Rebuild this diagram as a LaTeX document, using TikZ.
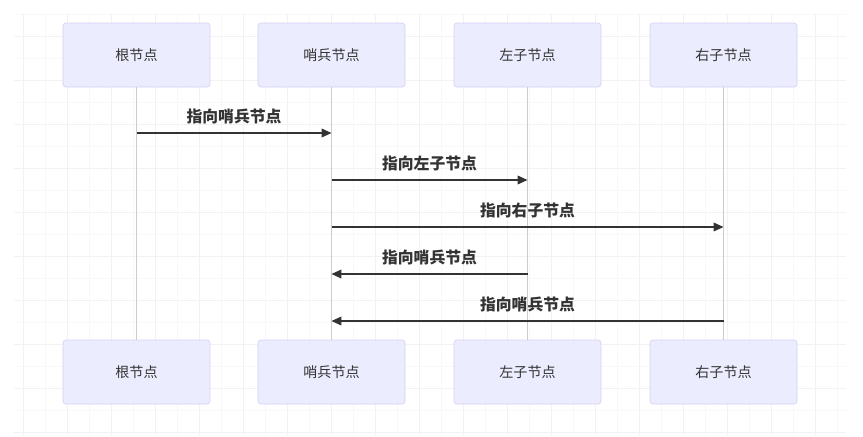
\documentclass[tikz,border=0pt]{standalone}
\usepackage{fontspec}
\newfontfamily\cjk{Noto Sans CJK SC}
\usetikzlibrary{arrows.meta,positioning}
\definecolor{actorfill}{HTML}{ECECFF}
\definecolor{actorline}{HTML}{D8D2F2}
\definecolor{ink}{HTML}{333333}
\definecolor{lifeline}{HTML}{CCCCCC}
\definecolor{gridmajor}{HTML}{F2F2F4}
\definecolor{gridminor}{HTML}{F8F8F9}

\begin{document}
\begin{tikzpicture}[x=0.03cm,y=-0.03cm,
    actor/.style={draw=actorline,fill=actorfill,line width=0.6pt,rounded corners=2.5pt,
      minimum width=4.41cm,minimum height=1.92cm,text=ink,font=\cjk\fontsize{12}{14}\selectfont},
    msg/.style={draw=ink,line width=0.9pt,-{Triangle[length=8.5pt,width=7.5pt]}},
    msglabel/.style={text=ink,inner sep=0pt,font=\cjk\bfseries\fontsize{13.5}{16}\selectfont}]
  \useasboundingbox (0,0) rectangle (863,436);
  \fill[white] (0,0) rectangle (863,436);
  % faint grid behind the diagram
  \foreach \x in {45,89,...,837} \draw[gridminor,line width=0.5pt] (\x,14) -- (\x,436);
  \foreach \y in {14,58,...,410} \draw[gridminor,line width=0.5pt] (14,\y) -- (846,\y);
  \foreach \x in {23,67,...,815} \draw[gridmajor,line width=0.6pt] (\x,14) -- (\x,436);
  \foreach \y in {36,80,...,432} \draw[gridmajor,line width=0.6pt] (14,\y) -- (846,\y);
  % participants, top and bottom
  \node[actor] (root)  at (136.5,55) {根节点};
  \node[actor] (sent)  at (331.5,55) {哨兵节点};
  \node[actor] (left)  at (527.5,55) {左子节点};
  \node[actor] (right) at (723.5,55) {右子节点};
  \node[actor] (rootb)  at (136.5,372) {根节点};
  \node[actor] (sentb)  at (331.5,372) {哨兵节点};
  \node[actor] (leftb)  at (527.5,372) {左子节点};
  \node[actor] (rightb) at (723.5,372) {右子节点};
  \foreach \a in {root,sent,left,right}
    \draw[lifeline,line width=0.7pt] (\a) -- (\a b);
  % messages
  \coordinate (m1) at (0,133);
  \coordinate (m2) at (0,180);
  \coordinate (m3) at (0,227);
  \coordinate (m4) at (0,274);
  \coordinate (m5) at (0,321);
  \draw[msg] (root |- m1) -- node[msglabel,above=7.5pt] {指向哨兵节点} (sent |- m1);
  \draw[msg] (sent |- m2) -- node[msglabel,above=7.5pt] {指向左子节点} (left |- m2);
  \draw[msg] (sent |- m3) -- node[msglabel,above=7.5pt] {指向右子节点} (right |- m3);
  \draw[msg] (left |- m4) -- node[msglabel,above=7.5pt] {指向哨兵节点} (sent |- m4);
  \draw[msg] (right |- m5) -- node[msglabel,above=7.5pt] {指向哨兵节点} (sent |- m5);
\end{tikzpicture}
\end{document}
